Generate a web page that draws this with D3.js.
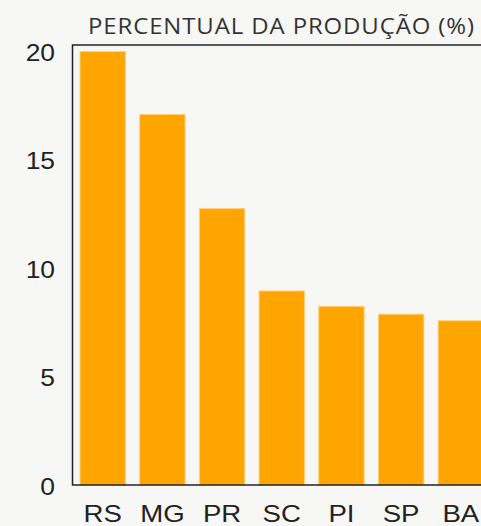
<!DOCTYPE html>
<html><head><meta charset="utf-8">
<script src="https://cdn.jsdelivr.net/npm/d3@7"></script>
<style>
html,body{margin:0;padding:0;background:#f7f8f6;}
svg{display:block;}
</style></head>
<body>
<script>
const categories = ["RS","MG","PR","SC","PI","SP","BA"];
const values = [19.95, 17.05, 12.72, 8.93, 8.22, 7.86, 7.56];
const yTicks = [0,5,10,15,20];
const title = "PERCENTUAL DA PRODUÇÃO (%)";

(function(){
const W = 481, H = 526;
const mLeft = 72.5, mRight = 491, mTop = 45, mBottom = 485;

const svg = d3.select("body").append("svg").attr("width", W).attr("height", H);

const x = d3.scaleBand().domain(categories).range([mLeft, mRight]).paddingInner(0.24).paddingOuter(0.126);
const y = d3.scaleLinear().domain([0, 20.25]).range([mBottom, mTop]);

svg.append("g").selectAll("rect").data(values).join("rect")
  .attr("x", (d,i) => x(categories[i]))
  .attr("y", d => y(d))
  .attr("width", x.bandwidth())
  .attr("height", d => y(0) - y(d))
  .attr("fill", "#ffa500")
  .attr("stroke", "#ffcf7a")
  .attr("stroke-width", 1);

svg.append("path")
  .attr("d", `M${mRight+20},${mTop}H${mLeft}V${mBottom}H${mRight+20}`)
  .attr("fill", "none").attr("stroke", "#222").attr("stroke-width", 1.5);

const sy = 1.1;
const yAxis = d3.axisLeft(y).tickValues(yTicks).tickSize(0).tickPadding(0);
const gy = svg.append("g").attr("transform", `translate(${mLeft},0)`).call(yAxis);
gy.select(".domain").remove();
gy.selectAll("text").attr("font-family", "Liberation Sans, Arial, sans-serif").attr("font-size", 24)
  .attr("fill", "#222").attr("dy", "0.4em").attr("x", -17.5 / sy).attr("transform", `scale(${sy},1)`);

const sx = 1.15;
const xAxis = d3.axisBottom(x).tickSize(0).tickPadding(0);
const gx = svg.append("g").attr("transform", `translate(0,${mBottom})`).call(xAxis);
gx.select(".domain").remove();
gx.selectAll("text").attr("font-family", "Liberation Sans, Arial, sans-serif").attr("font-size", 24)
  .attr("fill", "#222").attr("dy", null).attr("y", 37).attr("transform", `scale(${sx},1)`);

const t = svg.append("text").attr("y", 34).attr("text-anchor", "middle")
  .attr("font-family", "Open Sans, sans-serif").attr("font-size", 21.5).attr("fill", "#333")
  .attr("letter-spacing", 0.8)
  .text(title);
const tw = t.node().getComputedTextLength();
const ts = 387 / tw;
t.attr("x", 281.5 / ts).attr("transform", `scale(${ts},1)`);
})();
</script>
</body></html>
